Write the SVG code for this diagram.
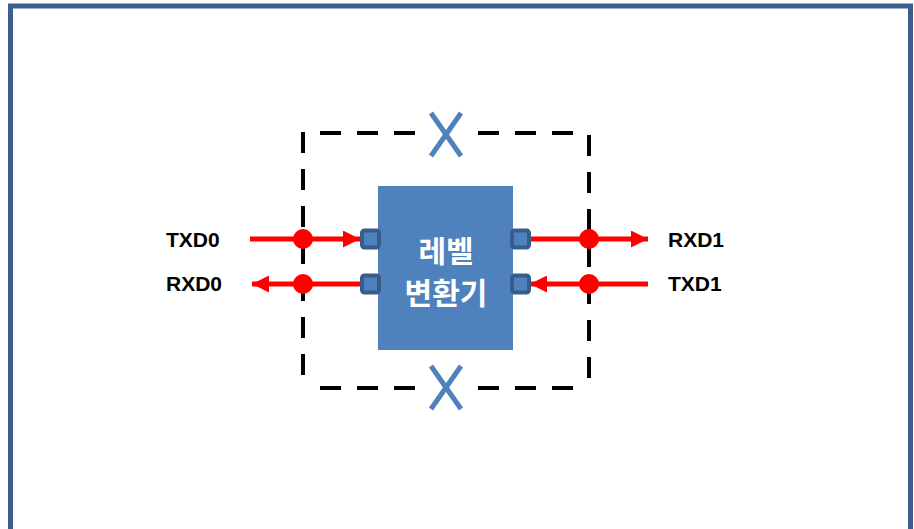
<svg xmlns="http://www.w3.org/2000/svg" width="914" height="529" viewBox="0 0 914 529">
<defs>
<style>
.frame{fill:#fff;stroke:#3b5e8c;stroke-width:5}
.dash{fill:none;stroke:#000;stroke-width:4;stroke-dasharray:21 16}
.x{stroke:#4f81bd;stroke-width:5;fill:none}
.sig{stroke:#ff0000;stroke-width:5;fill:none}
.dot{fill:#ff0000}
.port{fill:#4f81bd;stroke:#385d8a;stroke-width:4}
.lbl{font-family:"Liberation Sans",Arial,sans-serif;font-weight:bold;font-size:21px;fill:#000}
.kr{font-family:"Noto Sans CJK KR",sans-serif;font-weight:bold;font-size:30px;fill:#fff;text-anchor:middle}
</style>
<marker id="ah" viewBox="0 0 10 10" refX="10" refY="5" markerWidth="3.4" markerHeight="3.4" orient="auto" markerUnits="strokeWidth">
<path d="M0,0 L10,5 L0,10 z" fill="#ff0000"/>
</marker>
</defs>
<rect class="frame" x="10.5" y="6" width="900" height="526"/>
<g id="boundary">
<path class="dash" d="M303,132 V389"/>
<path class="dash" d="M589,135 V389"/>
<path class="dash" d="M320,133 H417"/>
<path class="dash" d="M478,133 H575"/>
<path class="dash" d="M320,388 H417"/>
<path class="dash" d="M478,388 H575"/>
</g>
<g id="x-top">
<path class="x" d="M431,113 L461,156 M461,113 L431,156"/>
</g>
<g id="x-bottom">
<path class="x" d="M431,366 L461,409 M461,366 L431,409"/>
</g>
<g id="connectors">
<line class="sig" x1="250" y1="239" x2="360" y2="239" marker-end="url(#ah)"/>
<line class="sig" x1="370" y1="284" x2="252" y2="284" marker-end="url(#ah)"/>
<line class="sig" x1="522" y1="239" x2="648" y2="239" marker-end="url(#ah)"/>
<line class="sig" x1="648" y1="284" x2="530" y2="284" marker-end="url(#ah)"/>
<circle class="dot" cx="303" cy="239" r="10"/>
<circle class="dot" cx="303" cy="284" r="10"/>
<circle class="dot" cx="589" cy="239" r="10"/>
<circle class="dot" cx="589" cy="284" r="10"/>
</g>
<g id="converter">
<rect x="378" y="186" width="135" height="164" fill="#4f81bd"/>
<text class="kr" x="446" y="262">레벨</text>
<text class="kr" x="446" y="304">변환기</text>
</g>
<g id="ports">
<rect class="port" x="362" y="230.5" width="17" height="17" rx="2.5"/>
<rect class="port" x="362" y="275.5" width="17" height="17" rx="2.5"/>
<rect class="port" x="512" y="230.5" width="17" height="17" rx="2.5"/>
<rect class="port" x="512" y="275.5" width="17" height="17" rx="2.5"/>
</g>
<g id="labels">
<text class="lbl" x="166" y="247">TXD0</text>
<text class="lbl" x="166" y="291">RXD0</text>
<text class="lbl" x="668" y="247">RXD1</text>
<text class="lbl" x="668" y="291">TXD1</text>
</g>
</svg>
